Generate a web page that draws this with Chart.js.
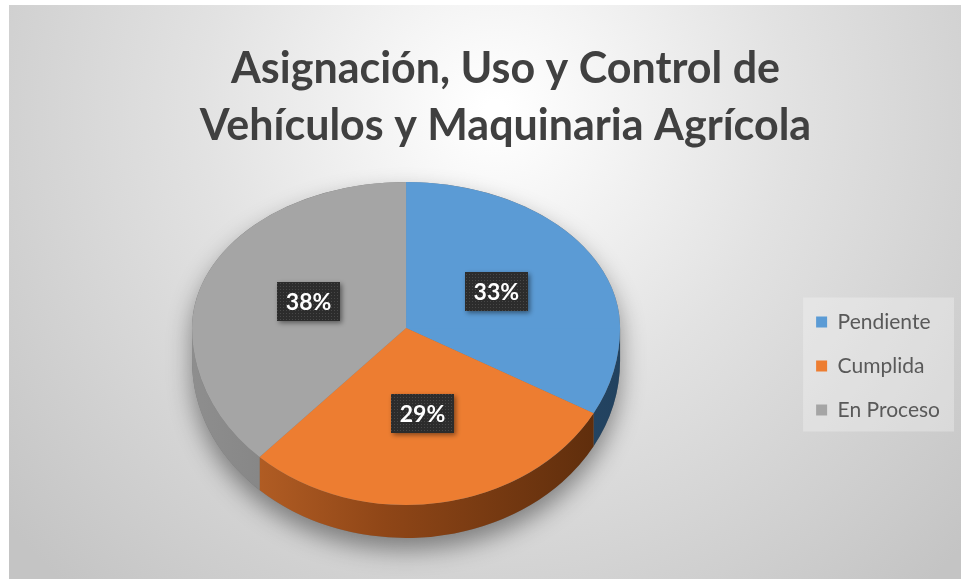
<!DOCTYPE html>
<html>
<head>
<meta charset="utf-8">
<script src="https://cdn.jsdelivr.net/npm/chart.js@4.4.1/dist/chart.umd.min.js"></script>
<style>
html,body{margin:0;padding:0;background:#fff;}
#wrap{position:relative;width:961px;height:582px;}
canvas{display:block;}
</style>
</head>
<body>
<div id="wrap"><canvas id="c" width="961" height="582"></canvas></div>
<script>
// ---- data ----
const titleLines = ['Asignación, Uso y Control de', 'Vehículos y Maquinaria Agrícola'];
const categories = ['Pendiente', 'Cumplida', 'En Proceso'];
const percentValues = [33, 29, 38];

// ---- styles ----
const sliceColors = ['#5B9BD5', '#ED7D31', '#A5A5A5'];
const sideColors = [
  ['#3d6f9c', '#2a4f72', '#22425f'],
  ['#c2682a', '#8f4617', '#5a2b0b'],
  ['#8e8e8e', '#7a7a7a', '#666666']
];
const TILT_TOP = 146 / 214;
const TILT_BOTTOM = 177 / 214;
const DEPTH = 33;
const LABEL_RADIUS = 0.49;

function makeDotPattern(ctx) {
  const p = document.createElement('canvas');
  p.width = 3; p.height = 3;
  const pc = p.getContext('2d');
  pc.fillStyle = '#2c2c2c'; pc.fillRect(0, 0, 3, 3);
  pc.fillStyle = '#474747'; pc.fillRect(1, 1, 1, 1);
  return ctx.createPattern(p, 'repeat');
}

const pie3d = {
  id: 'pie3d',
  afterLayout(chart) {
    const tb = chart.titleBlock;
    if (tb) { tb.left += 21; tb.right += 21; }
  },
  beforeDraw(chart) {
    const ctx = chart.ctx;
    ctx.save();
    ctx.fillStyle = '#ffffff';
    ctx.fillRect(0, 0, chart.width, chart.height);
    const g = ctx.createRadialGradient(495, 110, 10, 495, 110, 640);
    g.addColorStop(0, '#ffffff');
    g.addColorStop(0.45, '#e2e2e2');
    g.addColorStop(1, '#c4c4c4');
    ctx.fillStyle = g;
    ctx.fillRect(9, 5, chart.width - 9, 574);
    const lg = chart.legend;
    if (lg && lg.legendHitBoxes && lg.legendHitBoxes.length) {
      const hb = lg.legendHitBoxes;
      const x0 = hb[0].left - 13;
      const y0 = hb[0].top - 14;
      const x1 = Math.max(...hb.map(h => h.left + h.width)) + 14;
      const last = hb[hb.length - 1];
      const y1 = last.top + last.height + 11;
      ctx.fillStyle = 'rgba(255,255,255,0.28)';
      ctx.fillRect(x0, y0, x1 - x0, y1 - y0);
    }
    ctx.restore();
  },
  beforeDatasetsDraw(chart) {
    const ctx = chart.ctx;
    const arcs = chart.getDatasetMeta(0).data;
    if (!arcs.length) return;
    const cx = arcs[0].x, cy = arcs[0].y, R = arcs[0].outerRadius;
    const ryT = R * TILT_TOP, ryB = R * TILT_BOTTOM;

    // soft shadow under the pie
    ctx.save();
    ctx.shadowColor = 'rgba(0,0,0,0.42)';
    ctx.shadowBlur = 24;
    ctx.shadowOffsetY = 12;
    ctx.fillStyle = '#777';
    ctx.beginPath();
    ctx.ellipse(cx, cy + DEPTH, R, ryB, 0, 0, Math.PI);
    ctx.ellipse(cx, cy, R, ryT, 0, Math.PI, 2 * Math.PI);
    ctx.closePath();
    ctx.fill();
    ctx.restore();

    // side walls (front half only)
    arcs.forEach((arc, i) => {
      const a1 = arc.startAngle, a2 = arc.endAngle;
      [0, 2 * Math.PI, -2 * Math.PI].forEach(off => {
        const s = Math.max(a1 + off, 0), e = Math.min(a2 + off, Math.PI);
        if (e <= s) return;
        const grad = ctx.createLinearGradient(cx - R, 0, cx + R, 0);
        const c = sideColors[i];
        grad.addColorStop(0, c[0]);
        grad.addColorStop(0.45, c[1]);
        grad.addColorStop(1, c[2]);
        ctx.save();
        ctx.fillStyle = grad;
        ctx.beginPath();
        ctx.ellipse(cx, cy, R, ryB, 0, s, e);
        ctx.ellipse(cx, cy + DEPTH, R, ryB, 0, e, s, true);
        ctx.closePath();
        ctx.fill();
        ctx.restore();
      });
    });

    // top face: bottom half then top half with different tilt (perspective)
    const W = chart.width, H = chart.height;
    [[cy - 0.5, H - cy + 0.5, TILT_BOTTOM], [0, cy + 0.5, TILT_TOP]].forEach(([top, h, s]) => {
      ctx.save();
      ctx.beginPath();
      ctx.rect(0, top, W, h);
      ctx.clip();
      ctx.translate(cx, cy);
      ctx.scale(1, s);
      ctx.translate(-cx, -cy);
      arcs.forEach(a => a.draw(ctx));
      ctx.restore();
    });

    // data labels
    const data = chart.data.datasets[0].data;
    const total = data.reduce((a, b) => a + b, 0);
    const pat = makeDotPattern(ctx);
    ctx.save();
    ctx.font = 'bold 23px Lato';
    ctx.textAlign = 'center';
    ctx.textBaseline = 'middle';
    arcs.forEach((arc, i) => {
      const mid = (arc.startAngle + arc.endAngle) / 2;
      const r = R * LABEL_RADIUS;
      const sn = Math.sin(mid);
      const x = cx + r * Math.cos(mid);
      const y = cy + r * sn * (sn < 0 ? TILT_TOP : TILT_BOTTOM);
      const txt = Math.round(data[i] / total * 100) + '%';
      const tw = ctx.measureText(txt).width;
      const bw = tw + 17, bh = 39;
      ctx.save();
      ctx.shadowColor = 'rgba(0,0,0,0.45)';
      ctx.shadowBlur = 5;
      ctx.shadowOffsetX = 2;
      ctx.shadowOffsetY = 2;
      ctx.fillStyle = pat;
      ctx.fillRect(Math.round(x - bw / 2), Math.round(y - bh / 2), Math.round(bw), bh);
      ctx.restore();
      ctx.fillStyle = '#ffffff';
      ctx.fillText(txt, x, y + 1);
    });
    ctx.restore();
    return false;
  }
};

new Chart(document.getElementById('c'), {
  type: 'pie',
  data: {
    labels: categories,
    datasets: [{
      data: percentValues,
      backgroundColor: sliceColors,
      borderWidth: 0,
      radius: 214
    }]
  },
  options: {
    responsive: false,
    animation: false,
    events: [],
    layout: { padding: { left: 19, right: 11, top: 0, bottom: 138.5 } },
    plugins: {
      title: {
        display: true,
        text: titleLines,
        color: '#404040',
        font: { family: 'Lato', size: 43, weight: 'bold', lineHeight: 57 / 43 },
        padding: { top: 41, bottom: 57.5 }
      },
      legend: {
        display: true,
        position: 'right',
        align: 'end',
        labels: {
          boxWidth: 11,
          boxHeight: 11,
          padding: 23,
          color: '#595959',
          font: { family: 'Lato', size: 21 }
        }
      },
      tooltip: { enabled: false }
    }
  },
  plugins: [pie3d]
});
</script>
</body>
</html>
